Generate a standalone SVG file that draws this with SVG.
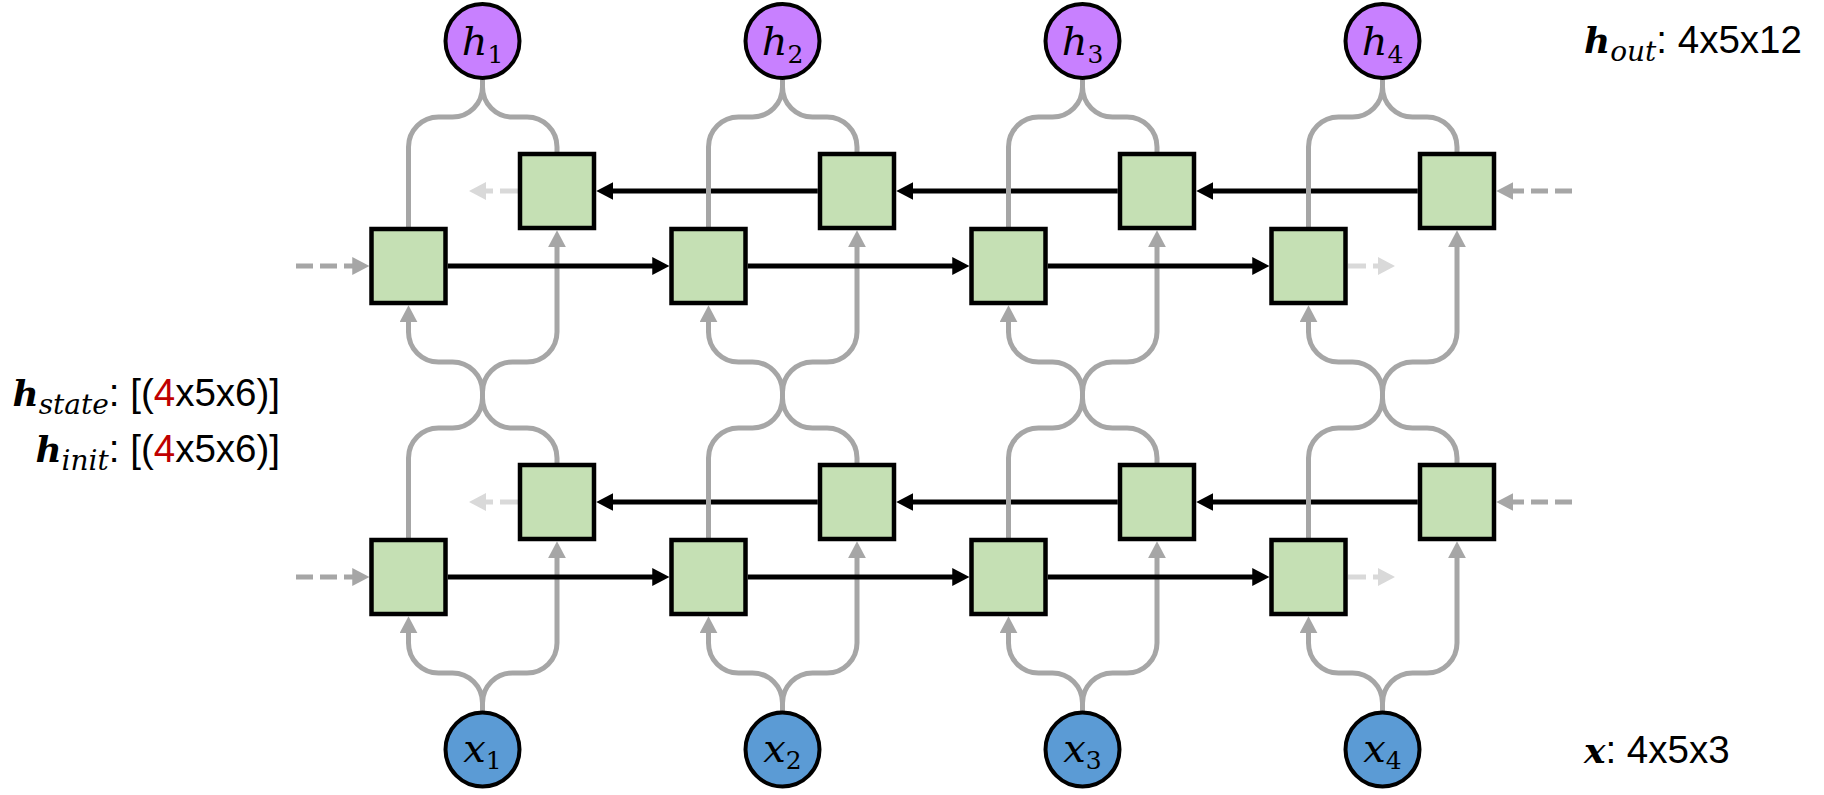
<svg xmlns="http://www.w3.org/2000/svg" xmlns:xlink="http://www.w3.org/1999/xlink" width="1824" height="795" viewBox="0 0 1824 795">
  <style>
    .wire { fill: none; stroke: #a6a6a6; stroke-width: 5; }
    .link { fill: none; stroke: #000; stroke-width: 5; }
    .dash { fill: none; stroke: #a6a6a6; stroke-width: 5; stroke-dasharray: 17 7; }
    .fade { fill: none; stroke: #d9d9d9; stroke-width: 5; stroke-dasharray: 18 7; }
    .cell { fill: #c5e0b4; stroke: #000; stroke-width: 4.5; }
    .hnode { fill: #c880ff; stroke: #000; stroke-width: 4; }
    .xnode { fill: #5b9bd5; stroke: #000; stroke-width: 4; }
    .lbl { font-family: "DejaVu Serif", serif; fill: #000; }
    .mi { font-style: italic; font-size: 40px; }
    .sd { font-style: normal; font-size: 25px; }
    .mb { font-style: italic; font-weight: bold; font-size: 36px; }
    .ms { font-style: italic; font-weight: normal; font-size: 28px; }
    .tx { font-family: "Liberation Sans", Arial, sans-serif; font-style: normal; font-weight: normal; font-size: 38.5px; }
    .red { fill: #c00000; }
  </style>
  <defs>
    <marker id="ah-gray" viewBox="0 0 17 18" refX="7" refY="9" markerWidth="17" markerHeight="18" markerUnits="userSpaceOnUse" orient="auto">
      <path d="M0,0 L17,9 L0,18 Z" fill="#a6a6a6"/>
    </marker>
    <marker id="ah-black" viewBox="0 0 17 18" refX="7" refY="9" markerWidth="17" markerHeight="18" markerUnits="userSpaceOnUse" orient="auto">
      <path d="M0,0 L17,9 L0,18 Z" fill="#000"/>
    </marker>
    <marker id="ah-light" viewBox="0 0 17 18" refX="7" refY="9" markerWidth="17" markerHeight="18" markerUnits="userSpaceOnUse" orient="auto">
      <path d="M0,0 L17,9 L0,18 Z" fill="#d9d9d9"/>
    </marker>
    <!-- wiring of one time step: input split, layer-to-layer crossing, output merge -->
    <g id="step-wires">
      <path class="wire" d="M408.5,228 V147 A30,30 0 0 1 438.5,117 H452.5 A30,30 0 0 0 482.5,87 V79"/>
      <path class="wire" d="M557,153 V147 A30,30 0 0 0 527,117 H512.5 A30,30 0 0 1 482.5,87 V79"/>
      <path class="wire" marker-end="url(#ah-gray)" d="M408.5,539 V458 A30,30 0 0 1 438.5,428 H452.5 A30,30 0 0 0 482.5,398 V392 A30,30 0 0 1 512.5,362 H527 A30,30 0 0 0 557,332 V240.25"/>
      <path class="wire" marker-end="url(#ah-gray)" d="M557,464 V458 A30,30 0 0 0 527,428 H512.5 A30,30 0 0 1 482.5,398 V392 A30,30 0 0 0 452.5,362 H438.5 A30,30 0 0 1 408.5,332 V315.25"/>
      <path class="wire" marker-end="url(#ah-gray)" d="M482.5,711 V703 A30,30 0 0 0 452.5,673 H438.5 A30,30 0 0 1 408.5,643 V626.25"/>
      <path class="wire" marker-end="url(#ah-gray)" d="M482.5,711 V703 A30,30 0 0 1 512.5,673 H527 A30,30 0 0 0 557,643 V551.25"/>
    </g>
  </defs>

  <g id="connectors">
    <!-- backward recurrences -->
    <g id="backward-links" marker-end="url(#ah-black)">
      <path class="link" d="M817.75,191 H606.25"/>
      <path class="link" d="M1117.75,191 H906.25"/>
      <path class="link" d="M1417.75,191 H1206.25"/>
      <path class="link" d="M817.75,502 H606.25"/>
      <path class="link" d="M1117.75,502 H906.25"/>
      <path class="link" d="M1417.75,502 H1206.25"/>
    </g>
    <!-- per-step gray wiring -->
    <g id="step-wiring">
      <use xlink:href="#step-wires" href="#step-wires"/>
      <use xlink:href="#step-wires" href="#step-wires" x="300"/>
      <use xlink:href="#step-wires" href="#step-wires" x="600"/>
      <use xlink:href="#step-wires" href="#step-wires" x="900"/>
    </g>
    <!-- forward recurrences -->
    <g id="forward-links">
      <path class="link" marker-end="url(#ah-black)" d="M447.75,266 H659.25"/>
      <path class="link" marker-end="url(#ah-black)" d="M747.75,266 H959.25"/>
      <path class="link" marker-end="url(#ah-black)" d="M1047.75,266 H1259.25"/>
      <path class="link" marker-end="url(#ah-black)" d="M447.75,577 H659.25"/>
      <path class="link" marker-end="url(#ah-black)" d="M747.75,577 H959.25"/>
      <path class="link" marker-end="url(#ah-black)" d="M1047.75,577 H1259.25"/>
    </g>
    <!-- initial states entering -->
    <g id="state-in">
      <path class="dash" marker-end="url(#ah-gray)" d="M296,266 H359.25"/>
      <path class="dash" marker-end="url(#ah-gray)" d="M296,577 H359.25"/>
      <path class="dash" marker-end="url(#ah-gray)" d="M1572,191 H1506.25"/>
      <path class="dash" marker-end="url(#ah-gray)" d="M1572,502 H1506.25"/>
    </g>
    <!-- final states leaving -->
    <g id="state-out">
      <path class="fade" marker-end="url(#ah-light)" d="M1348,266 H1385"/>
      <path class="fade" marker-end="url(#ah-light)" d="M1348,577 H1385"/>
      <path class="fade" marker-end="url(#ah-light)" d="M518,191 H479"/>
      <path class="fade" marker-end="url(#ah-light)" d="M518,502 H479"/>
    </g>
  </g>

  <!-- layer 2 cells -->
  <g id="l2-fwd-1"><rect class="cell" x="371.5" y="229" width="74" height="74"/></g>
  <g id="l2-fwd-2"><rect class="cell" x="671.5" y="229" width="74" height="74"/></g>
  <g id="l2-fwd-3"><rect class="cell" x="971.5" y="229" width="74" height="74"/></g>
  <g id="l2-fwd-4"><rect class="cell" x="1271.5" y="229" width="74" height="74"/></g>
  <g id="l2-bwd-1"><rect class="cell" x="520" y="154" width="74" height="74"/></g>
  <g id="l2-bwd-2"><rect class="cell" x="820" y="154" width="74" height="74"/></g>
  <g id="l2-bwd-3"><rect class="cell" x="1120" y="154" width="74" height="74"/></g>
  <g id="l2-bwd-4"><rect class="cell" x="1420" y="154" width="74" height="74"/></g>
  <!-- layer 1 cells -->
  <g id="l1-fwd-1"><rect class="cell" x="371.5" y="540" width="74" height="74"/></g>
  <g id="l1-fwd-2"><rect class="cell" x="671.5" y="540" width="74" height="74"/></g>
  <g id="l1-fwd-3"><rect class="cell" x="971.5" y="540" width="74" height="74"/></g>
  <g id="l1-fwd-4"><rect class="cell" x="1271.5" y="540" width="74" height="74"/></g>
  <g id="l1-bwd-1"><rect class="cell" x="520" y="465" width="74" height="74"/></g>
  <g id="l1-bwd-2"><rect class="cell" x="820" y="465" width="74" height="74"/></g>
  <g id="l1-bwd-3"><rect class="cell" x="1120" y="465" width="74" height="74"/></g>
  <g id="l1-bwd-4"><rect class="cell" x="1420" y="465" width="74" height="74"/></g>

  <!-- outputs -->
  <g id="h1"><circle class="hnode" cx="482.5" cy="41" r="37"/>
    <text class="lbl" x="482.5" y="55" text-anchor="middle"><tspan class="mi">h</tspan><tspan class="sd" dy="8">1</tspan></text></g>
  <g id="h2"><circle class="hnode" cx="782.5" cy="41" r="37"/>
    <text class="lbl" x="782.5" y="55" text-anchor="middle"><tspan class="mi">h</tspan><tspan class="sd" dy="8">2</tspan></text></g>
  <g id="h3"><circle class="hnode" cx="1082.5" cy="41" r="37"/>
    <text class="lbl" x="1082.5" y="55" text-anchor="middle"><tspan class="mi">h</tspan><tspan class="sd" dy="8">3</tspan></text></g>
  <g id="h4"><circle class="hnode" cx="1382.5" cy="41" r="37"/>
    <text class="lbl" x="1382.5" y="55" text-anchor="middle"><tspan class="mi">h</tspan><tspan class="sd" dy="8">4</tspan></text></g>

  <!-- inputs -->
  <g id="x1"><circle class="xnode" cx="482.5" cy="749.5" r="37"/>
    <text class="lbl" x="482.5" y="762" text-anchor="middle"><tspan class="mi">x</tspan><tspan class="sd" dy="7">1</tspan></text></g>
  <g id="x2"><circle class="xnode" cx="782.5" cy="749.5" r="37"/>
    <text class="lbl" x="782.5" y="762" text-anchor="middle"><tspan class="mi">x</tspan><tspan class="sd" dy="7">2</tspan></text></g>
  <g id="x3"><circle class="xnode" cx="1082.5" cy="749.5" r="37"/>
    <text class="lbl" x="1082.5" y="762" text-anchor="middle"><tspan class="mi">x</tspan><tspan class="sd" dy="7">3</tspan></text></g>
  <g id="x4"><circle class="xnode" cx="1382.5" cy="749.5" r="37"/>
    <text class="lbl" x="1382.5" y="762" text-anchor="middle"><tspan class="mi">x</tspan><tspan class="sd" dy="7">4</tspan></text></g>

  <!-- shape annotations -->
  <g id="label-hout">
    <text class="lbl" x="1584" y="53"><tspan class="mb">h</tspan><tspan class="ms" dy="8">out</tspan><tspan class="tx" dy="-8">: 4x5x12</tspan></text>
  </g>
  <g id="label-x">
    <text class="lbl" x="1584" y="763"><tspan class="mb">x</tspan><tspan class="tx">: 4x5x3</tspan></text>
  </g>
  <g id="label-hstate">
    <text class="lbl" x="280" y="406" text-anchor="end"><tspan class="mb">h</tspan><tspan class="ms" dy="8">state</tspan><tspan class="tx" dy="-8">: [(</tspan><tspan class="tx red">4</tspan><tspan class="tx">x5x6)]</tspan></text>
  </g>
  <g id="label-hinit">
    <text class="lbl" x="280" y="462" text-anchor="end"><tspan class="mb">h</tspan><tspan class="ms" dy="8">init</tspan><tspan class="tx" dy="-8">: [(</tspan><tspan class="tx red">4</tspan><tspan class="tx">x5x6)]</tspan></text>
  </g>
</svg>
